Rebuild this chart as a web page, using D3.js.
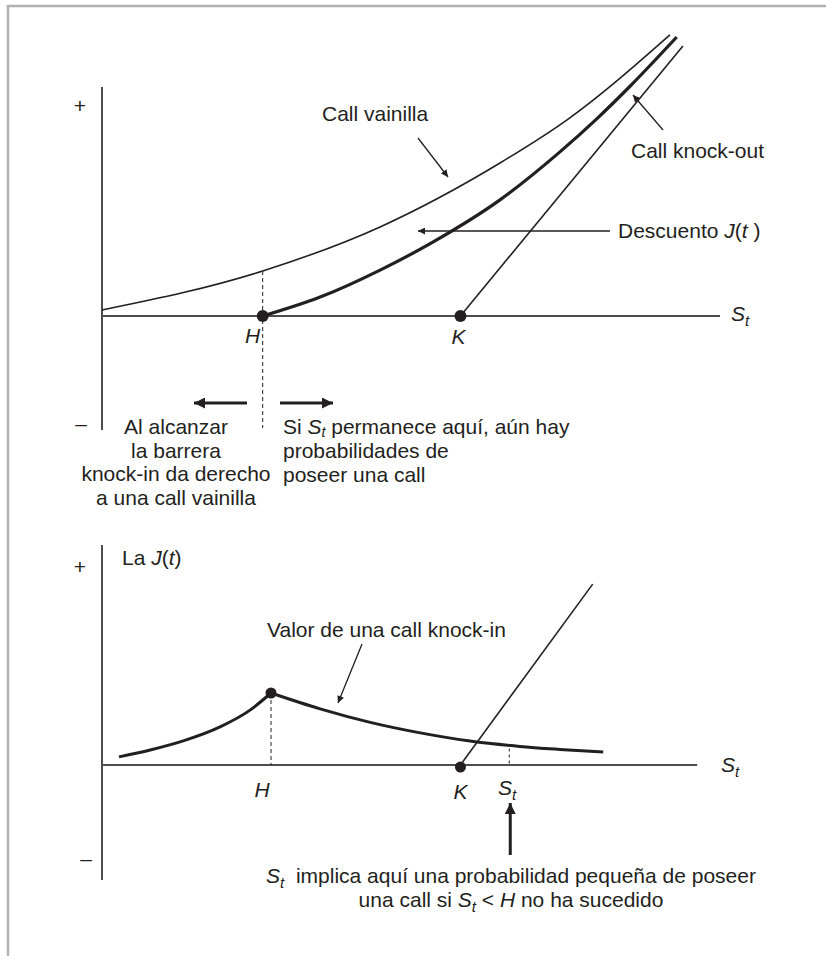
<!DOCTYPE html>
<html><head><meta charset="utf-8">
<script src="https://cdn.jsdelivr.net/npm/d3@7"></script>
<style>
body{margin:0;background:#fff}
svg{display:block}
text{font-family:"Liberation Sans",Arial,Helvetica,sans-serif;fill:#231f20;font-size:21px}
</style>
</head><body>
<svg id="c" width="826" height="956"></svg>
<script>
// ---------- data (S units 0..100, value units) ----------
// top panel
const topBarrierH = 26;
const topStrikeK = 58;
const vanillaCall = [[0,2],[26,15],[45,29.7],[64.4,51],[75.2,65.3],[91.9,93.7]];
const knockOutCall = [[26.05,0],[35.3,6.3],[45,15.3],[53.6,24.7],[64.4,38.7],[74.1,54.7],[80.1,65.8],[85.4,76.5],[93,93]];
const topIntrinsic = [[58,0],[94,90]];
// bottom panel
const botBarrierH = 27.35;
const botStrikeK = 58;
const botSpotSt = 65.9;
const knockInLeft = [[2.75,2.7],[7.8,5],[13.4,8.2],[19.1,12.7],[23.95,18.3],[27.35,24]];
const knockInRight = [[27.35,24],[35.3,18.7],[43.4,14.2],[51.5,10.7],[59.55,8],[67.6,6.2],[74.1,5.2],[81.1,4.3]];
const botIntrinsic = [[58,0],[79.4,60.3]];
// text
const leftNote = ["Al alcanzar","la barrera","knock-in da derecho","a una call vainilla"];
const rightNote = ["probabilidades de","poseer una call"];

// ---------- drawing ----------
const svg = d3.select("#c");
const x = d3.scaleLinear().domain([0,100]).range([102,720]);
const yT = d3.scaleLinear().domain([0,100]).range([316,16]);
const yB = d3.scaleLinear().domain([0,100]).range([765,465]);
const ink = "#231f20", axisCol = "#4d4d4f";

// markers
const defs = svg.append("defs");
defs.append("marker").attr("id","thin").attr("viewBox","0 0 10 10").attr("refX",10).attr("refY",5)
  .attr("markerWidth",10).attr("markerHeight",7).attr("markerUnits","userSpaceOnUse").attr("orient","auto")
  .append("path").attr("d","M0,0L10,5L0,10z").attr("fill",ink);
defs.append("marker").attr("id","thick").attr("viewBox","0 0 10 10").attr("refX",10).attr("refY",5)
  .attr("markerWidth",16).attr("markerHeight",11).attr("markerUnits","userSpaceOnUse").attr("orient","auto")
  .append("path").attr("d","M0,0L10,5L0,10z").attr("fill",ink);

// frame
svg.append("path").attr("d","M8,956V6H826").attr("fill","none").attr("stroke","#b1b1b3").attr("stroke-width",2.5);

function line(yS){ return d3.line().x(d=>x(d[0])).y(d=>yS(d[1])).curve(d3.curveMonotoneX); }
function sText(g, px, py){
  const t = g.append("text").attr("x",px).attr("y",py);
  t.append("tspan").attr("font-style","italic").text("S");
  t.append("tspan").attr("font-style","italic").attr("font-size",15).attr("dy",5).text("t");
  return t;
}

// ===== TOP PANEL =====
const gT = svg.append("g");
gT.append("line").attr("x1",x(0)).attr("x2",x(0)).attr("y1",87).attr("y2",430).attr("stroke",axisCol).attr("stroke-width",2);
gT.append("line").attr("x1",x(0)).attr("x2",x(100)).attr("y1",yT(0)).attr("y2",yT(0)).attr("stroke",axisCol).attr("stroke-width",2);
gT.append("text").attr("x",80).attr("y",113).attr("text-anchor","middle").text("+");
gT.append("text").attr("x",81).attr("y",431).attr("text-anchor","middle").text("\u2013");
sText(gT, 731, 321);
gT.append("line").attr("x1",x(topBarrierH)).attr("x2",x(topBarrierH)).attr("y1",yT(15)).attr("y2",428)
  .attr("stroke",ink).attr("stroke-width",1).attr("stroke-dasharray","4,3");
gT.append("path").attr("d",line(yT)(vanillaCall)).attr("fill","none").attr("stroke",ink).attr("stroke-width",1.6);
gT.append("path").attr("d",line(yT)(knockOutCall)).attr("fill","none").attr("stroke",ink).attr("stroke-width",3.2);
gT.append("path").attr("d",d3.line().x(d=>x(d[0])).y(d=>yT(d[1]))(topIntrinsic)).attr("fill","none").attr("stroke",ink).attr("stroke-width",1.6);
gT.append("circle").attr("cx",x(topBarrierH)).attr("cy",yT(0)).attr("r",6).attr("fill",ink);
gT.append("circle").attr("cx",x(topStrikeK)).attr("cy",yT(0)).attr("r",6).attr("fill",ink);
gT.append("text").attr("x",x(topBarrierH)-10).attr("y",343).attr("text-anchor","middle").attr("font-style","italic").text("H");
gT.append("text").attr("x",x(topStrikeK)-2).attr("y",344).attr("text-anchor","middle").attr("font-style","italic").text("K");
gT.append("text").attr("x",322).attr("y",121).text("Call vainilla");
gT.append("line").attr("x1",418).attr("y1",138).attr("x2",448).attr("y2",177).attr("stroke",ink).attr("stroke-width",1.3).attr("marker-end","url(#thin)");
gT.append("text").attr("x",631).attr("y",158).text("Call knock-out");
gT.append("line").attr("x1",663).attr("y1",130).attr("x2",633).attr("y2",95).attr("stroke",ink).attr("stroke-width",1.3).attr("marker-end","url(#thin)");
const desc = gT.append("text").attr("x",618).attr("y",238);
desc.append("tspan").text("Descuento ");
desc.append("tspan").attr("font-style","italic").text("J");
desc.append("tspan").text("(");
desc.append("tspan").attr("font-style","italic").text("t");
desc.append("tspan").text(" )");
gT.append("line").attr("x1",610).attr("y1",231).attr("x2",418).attr("y2",231).attr("stroke",ink).attr("stroke-width",1.3).attr("marker-end","url(#thin)");
gT.append("line").attr("x1",247).attr("y1",403).attr("x2",194).attr("y2",403).attr("stroke",ink).attr("stroke-width",3).attr("marker-end","url(#thick)");
gT.append("line").attr("x1",280).attr("y1",403).attr("x2",333).attr("y2",403).attr("stroke",ink).attr("stroke-width",3).attr("marker-end","url(#thick)");
leftNote.forEach((s,i)=>gT.append("text").attr("x",176).attr("y",434+i*23.5).attr("text-anchor","middle").text(s));
const r0 = gT.append("text").attr("x",283).attr("y",434);
r0.append("tspan").text("Si ");
r0.append("tspan").attr("font-style","italic").text("S");
r0.append("tspan").attr("font-style","italic").attr("font-size",14).attr("baseline-shift","-20%").text("t");
r0.append("tspan").text(" permanece aquí, aún hay");
rightNote.forEach((s,i)=>gT.append("text").attr("x",283).attr("y",458+i*23.5).text(s));

// ===== BOTTOM PANEL =====
const gB = svg.append("g");
gB.append("line").attr("x1",x(0)).attr("x2",x(0)).attr("y1",545).attr("y2",880).attr("stroke",axisCol).attr("stroke-width",2);
gB.append("line").attr("x1",x(0)).attr("x2",x(96.3)).attr("y1",yB(0)).attr("y2",yB(0)).attr("stroke",axisCol).attr("stroke-width",2);
gB.append("text").attr("x",80).attr("y",574).attr("text-anchor","middle").text("+");
gB.append("text").attr("x",86).attr("y",866).attr("text-anchor","middle").text("\u2013");
sText(gB, 721, 772);
const la = gB.append("text").attr("x",122).attr("y",565);
la.append("tspan").text("La ");
la.append("tspan").attr("font-style","italic").text("J");
la.append("tspan").text("(");
la.append("tspan").attr("font-style","italic").text("t");
la.append("tspan").text(")");
gB.append("line").attr("x1",x(botBarrierH)).attr("x2",x(botBarrierH)).attr("y1",yB(24)).attr("y2",yB(0))
  .attr("stroke",ink).attr("stroke-width",1).attr("stroke-dasharray","4,3");
gB.append("line").attr("x1",x(botSpotSt)).attr("x2",x(botSpotSt)).attr("y1",yB(5.5)).attr("y2",yB(0))
  .attr("stroke",ink).attr("stroke-width",1).attr("stroke-dasharray","3,3");
gB.append("path").attr("d",line(yB)(knockInLeft)).attr("fill","none").attr("stroke",ink).attr("stroke-width",3);
gB.append("path").attr("d",line(yB)(knockInRight)).attr("fill","none").attr("stroke",ink).attr("stroke-width",3);
gB.append("path").attr("d",d3.line().x(d=>x(d[0])).y(d=>yB(d[1]))(botIntrinsic)).attr("fill","none").attr("stroke",ink).attr("stroke-width",1.6);
gB.append("circle").attr("cx",x(botBarrierH)).attr("cy",yB(24)).attr("r",5.5).attr("fill",ink);
gB.append("circle").attr("cx",x(botStrikeK)).attr("cy",yB(0)+2).attr("r",5.5).attr("fill",ink);
gB.append("text").attr("x",x(botBarrierH)-9).attr("y",797).attr("text-anchor","middle").attr("font-style","italic").text("H");
gB.append("text").attr("x",x(botStrikeK)).attr("y",799).attr("text-anchor","middle").attr("font-style","italic").text("K");
sText(gB, 498, 795);
gB.append("text").attr("x",267).attr("y",637).text("Valor de una call knock-in");
gB.append("line").attr("x1",362).attr("y1",644).attr("x2",338).attr("y2",703).attr("stroke",ink).attr("stroke-width",1.3).attr("marker-end","url(#thin)");
gB.append("line").attr("x1",x(botSpotSt)+1).attr("y1",855).attr("x2",x(botSpotSt)+1).attr("y2",803).attr("stroke",ink).attr("stroke-width",3).attr("marker-end","url(#thick)");
const b1 = gB.append("text").attr("x",511).attr("y",883).attr("text-anchor","middle");
b1.append("tspan").attr("font-style","italic").text("S");
b1.append("tspan").attr("font-style","italic").attr("font-size",15).attr("dy",5).text("t");
b1.append("tspan").attr("dy",-5).text("\u00a0 implica aquí una probabilidad pequeña de poseer");
const b2 = gB.append("text").attr("x",511).attr("y",907).attr("text-anchor","middle");
b2.append("tspan").text("una call si ");
b2.append("tspan").attr("font-style","italic").text("S");
b2.append("tspan").attr("font-style","italic").attr("font-size",15).attr("dy",5).text("t");
b2.append("tspan").attr("dy",-5).text(" < ");
b2.append("tspan").attr("font-style","italic").text("H");
b2.append("tspan").text(" no ha sucedido");
</script>
</body></html>
